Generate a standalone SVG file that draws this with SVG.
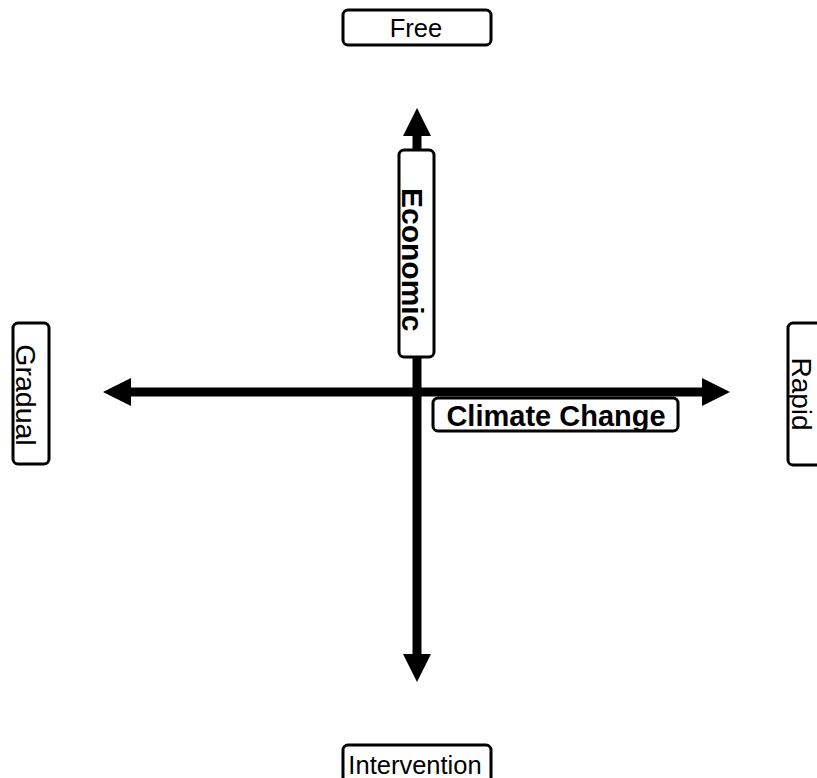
<svg xmlns="http://www.w3.org/2000/svg" width="817" height="778" viewBox="0 0 817 778">
<style>
.box{fill:#fff;stroke:#000;stroke-width:3}
.t{font-family:"Liberation Sans",Arial,sans-serif;fill:#000}
.b{font-weight:bold}
.ax{stroke:#000;stroke-width:9;fill:none}
</style>
<defs>
<marker id="ah" markerUnits="userSpaceOnUse" markerWidth="28" markerHeight="28" refX="0" refY="14" orient="auto-start-reverse" viewBox="0 0 28 28">
<path d="M0,0 L28,14 L0,28 z" fill="#000"/>
</marker>
<clipPath id="cc"><rect x="433" y="398" width="245" height="33"/></clipPath>
<clipPath id="cr"><rect x="788" y="323" width="40" height="142"/></clipPath>
</defs>
<rect width="817" height="778" fill="#fff"/>
<g id="connectors">
<line class="ax" x1="131" y1="392" x2="702" y2="392" marker-start="url(#ah)" marker-end="url(#ah)"/>
<line class="ax" x1="417" y1="136" x2="417" y2="654" marker-start="url(#ah)" marker-end="url(#ah)"/>
</g>
<g id="free">
<rect class="box" x="343" y="10" width="148" height="35" rx="5"/>
<text class="t" x="416" y="37" font-size="25.5" text-anchor="middle">Free</text>
</g>
<g id="intervention">
<rect class="box" x="343" y="745" width="148" height="40" rx="5"/>
<text class="t" x="415" y="774" font-size="25.5" text-anchor="middle">Intervention</text>
</g>
<g id="economic">
<rect class="box" x="399" y="150" width="35" height="207" rx="5"/>
<text class="t b" transform="translate(402,188) rotate(90)" font-size="30">Economic</text>
</g>
<g id="climate">
<rect class="box" x="433" y="398" width="245" height="33" rx="5"/>
<text class="t b" x="556" y="426" font-size="29" text-anchor="middle" clip-path="url(#cc)">Climate Change</text>
</g>
<g id="gradual">
<rect class="box" x="13" y="323" width="36" height="141" rx="5"/>
<text class="t" transform="translate(16,395) rotate(90)" font-size="28.5" text-anchor="middle">Gradual</text>
</g>
<g id="rapid">
<rect class="box" x="788" y="323" width="40" height="142" rx="5"/>
<g clip-path="url(#cr)"><text class="t" transform="translate(792,394) rotate(90)" font-size="28" text-anchor="middle">Rapid</text></g>
</g>
</svg>
